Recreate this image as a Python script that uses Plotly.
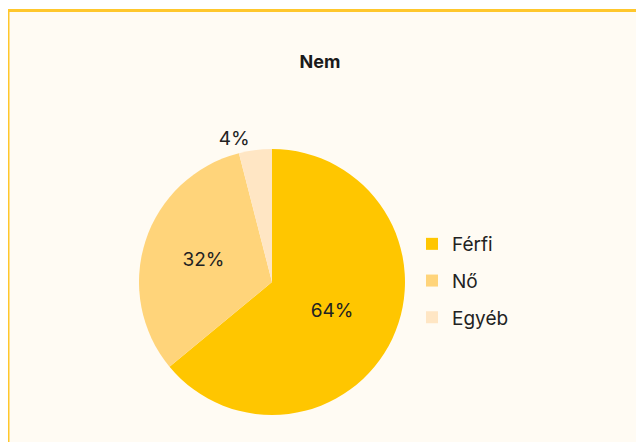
import plotly.graph_objects as go

# adatok
labels = ["Férfi", "Nő", "Egyéb"]
values = [64, 32, 4]
colors = ["#FFC600", "#FFD47A", "#FFE6C4"]

W, H = 644, 442
FONT = "Inter, Roboto, sans-serif"
OFF = 8  # a böngésző body margója


def px_x(x):
    return (x - OFF) / W


def px_y(y):
    return 1 - (y - OFF) / H


fig = go.Figure(go.Pie(
    labels=labels, values=values,
    marker=dict(colors=colors, line=dict(width=0)),
    sort=False, direction="clockwise", rotation=0,
    textinfo="percent", texttemplate="%{percent:.0%}",
    textposition=["inside", "inside", "outside"],
    insidetextorientation="horizontal",
    textfont=dict(size=19, color="#222222", family=FONT),
    domain=dict(x=[px_x(139), px_x(405)], y=[px_y(415), px_y(149)]),
    showlegend=False,
    hovertemplate="%{label}: %{percent}<extra></extra>",
))

# jelmagyarázat: külön elemek, hogy a sorköz állítható legyen
for lab, col in zip(labels, colors):
    fig.add_trace(go.Scatter(
        x=[None], y=[None], mode="markers", name=lab, legendgroup=lab,
        marker=dict(symbol="square", size=12, color=col),
    ))

fig.update_xaxes(visible=False)
fig.update_yaxes(visible=False)

fig.update_layout(
    width=W, height=H,
    margin=dict(l=0, r=0, t=0, b=0),
    paper_bgcolor="#FFFFFF", plot_bgcolor="rgba(0,0,0,0)",
    font=dict(family=FONT, color="#222222"),
    title=dict(text="<b>Nem</b>", x=px_x(320), xanchor="center",
               y=px_y(62), yanchor="middle",
               font=dict(size=18, color="#1A1A1A")),
    legend=dict(x=px_x(412), xanchor="left", y=px_y(281), yanchor="middle",
                traceorder="grouped", tracegroupgap=9,
                font=dict(size=19, color="#222222"), bgcolor="rgba(0,0,0,0)"),
    shapes=[dict(type="rect", xref="paper", yref="paper", layer="below",
                 x0=px_x(8), x1=1.1, y0=-0.1, y1=px_y(10.5),
                 line=dict(color="#FFC72C", width=3), fillcolor="#FFFBF3")],
)

fig.write_html("out.html")
